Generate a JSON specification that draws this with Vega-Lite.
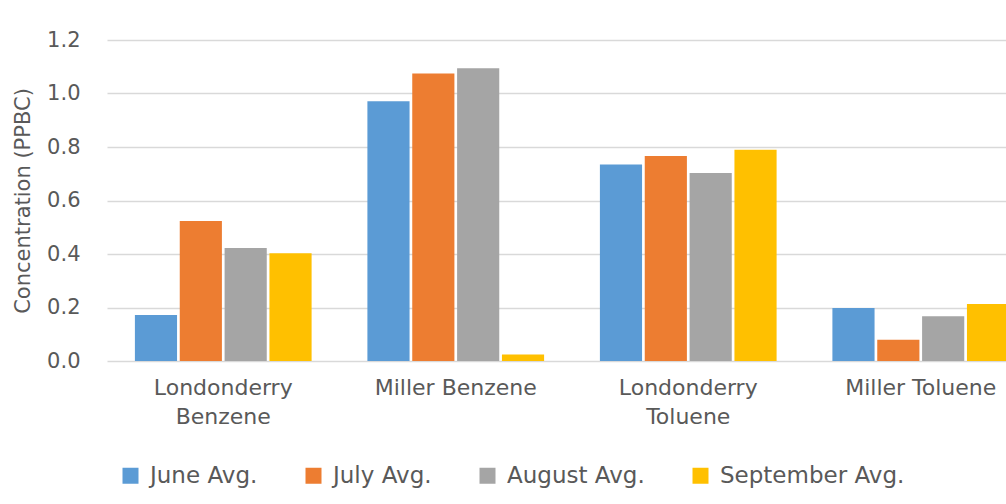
{
  "$schema": "https://vega.github.io/schema/vega-lite/v6.json",
  "width": 899,
  "height": 321,
  "autosize": {"type": "none"},
  "padding": {"left": 107, "top": 40, "right": 0, "bottom": 143},
  "background": "white",
  "config": {
    "view": {"stroke": null},
    "font": "DejaVu Sans",
    "axis": {"labelColor": "#595959", "titleColor": "#595959", "labelFont": "DejaVu Sans", "titleFont": "DejaVu Sans"}
  },
  "data": {
    "values": [
      {"cat": "Londonderry Benzene", "month": "June Avg.", "v": 0.172},
      {"cat": "Londonderry Benzene", "month": "July Avg.", "v": 0.523},
      {"cat": "Londonderry Benzene", "month": "August Avg.", "v": 0.422},
      {"cat": "Londonderry Benzene", "month": "September Avg.", "v": 0.403},
      {"cat": "Miller Benzene", "month": "June Avg.", "v": 0.971},
      {"cat": "Miller Benzene", "month": "July Avg.", "v": 1.075},
      {"cat": "Miller Benzene", "month": "August Avg.", "v": 1.094},
      {"cat": "Miller Benzene", "month": "September Avg.", "v": 0.024},
      {"cat": "Londonderry Toluene", "month": "June Avg.", "v": 0.735},
      {"cat": "Londonderry Toluene", "month": "July Avg.", "v": 0.766},
      {"cat": "Londonderry Toluene", "month": "August Avg.", "v": 0.703},
      {"cat": "Londonderry Toluene", "month": "September Avg.", "v": 0.790},
      {"cat": "Miller Toluene", "month": "June Avg.", "v": 0.198},
      {"cat": "Miller Toluene", "month": "July Avg.", "v": 0.079},
      {"cat": "Miller Toluene", "month": "August Avg.", "v": 0.167},
      {"cat": "Miller Toluene", "month": "September Avg.", "v": 0.213}
    ]
  },
  "mark": {"type": "bar"},
  "encoding": {
    "x": {
      "field": "cat",
      "type": "nominal",
      "sort": ["Londonderry Benzene", "Miller Benzene", "Londonderry Toluene", "Miller Toluene"],
      "scale": {"range": [0, 930], "paddingInner": 0.24, "paddingOuter": 0.12},
      "axis": {
        "title": null,
        "labelAngle": 0,
        "domain": false,
        "ticks": false,
        "labelPadding": 16,
        "labelFontSize": 22,
        "labelLineHeight": 29,
        "labelExpr": "indexof(datum.label,'Londonderry')==0 ? split(datum.label,' ') : datum.label"
      }
    },
    "xOffset": {
      "field": "month",
      "type": "nominal",
      "sort": ["June Avg.", "July Avg.", "August Avg.", "September Avg."],
      "scale": {"paddingInner": 0.06}
    },
    "y": {
      "field": "v",
      "type": "quantitative",
      "scale": {"domain": [0, 1.2], "nice": false},
      "axis": {
        "title": "Concentration (PPBC)",
        "titleFontSize": 21,
        "titleFontWeight": "normal",
        "titlePadding": 13,
        "values": [0, 0.2, 0.4, 0.6, 0.8, 1.0, 1.2],
        "format": ".1f",
        "labelFontSize": 21,
        "labelPadding": 27,
        "domain": false,
        "ticks": false,
        "gridColor": "#d9d9d9",
        "gridWidth": 1.5
      }
    },
    "color": {
      "field": "month",
      "type": "nominal",
      "sort": ["June Avg.", "July Avg.", "August Avg.", "September Avg."],
      "scale": {"domain": ["June Avg.", "July Avg.", "August Avg.", "September Avg."], "range": ["#5b9bd5", "#ed7d31", "#a5a5a5", "#ffc000"]},
      "legend": {
        "title": null,
        "orient": "none",
        "direction": "horizontal",
        "legendX": 12,
        "legendY": 424,
        "symbolType": "square",
        "symbolSize": 256,
        "symbolStrokeWidth": 0,
        "labelFontSize": 23,
        "labelColor": "#595959",
        "labelFont": "DejaVu Sans",
        "labelOffset": 8,
        "columnPadding": 44,
        "labelLimit": 300
      }
    }
  }
}
